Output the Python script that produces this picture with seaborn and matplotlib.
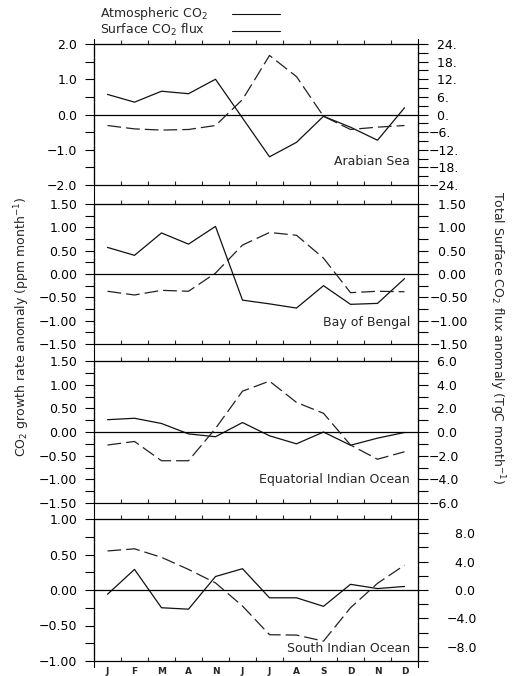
import numpy as np
import pandas as pd
import matplotlib
matplotlib.use("Agg")
import matplotlib.pyplot as plt
import matplotlib.ticker as mticker
from matplotlib.lines import Line2D
import seaborn as sns

# ---------------- data ----------------
months = ["J", "F", "M", "A", "N", "J", "J", "A", "S", "D", "N", "D"]

arabian_atm = [0.57, 0.35, 0.66, 0.59, 1.00, -0.10, -1.20, -0.79, -0.05, -0.36, -0.73, 0.19]
arabian_flux = [-3.75, -4.9, -5.3, -5.1, -3.75, 5.1, 20.1, 12.9, -0.6, -5.1, -4.3, -3.75]

bengal_atm = [0.57, 0.40, 0.88, 0.64, 1.02, -0.56, -0.64, -0.73, -0.25, -0.65, -0.63, -0.10]
bengal_flux = [-0.37, -0.45, -0.35, -0.37, 0.02, 0.62, 0.89, 0.83, 0.34, -0.40, -0.37, -0.38]

equatorial_atm = [0.26, 0.29, 0.18, -0.04, -0.10, 0.20, -0.08, -0.25, 0.00, -0.28, -0.13, -0.01]
equatorial_flux = [-1.1, -0.8, -2.43, -2.43, 0.3, 3.45, 4.3, 2.5, 1.58, -1.1, -2.3, -1.67]

south_atm = [-0.06, 0.29, -0.25, -0.27, 0.19, 0.30, -0.11, -0.11, -0.23, 0.08, 0.02, 0.05]
south_flux = [5.5, 5.8, 4.6, 2.9, 1.0, -2.26, -6.3, -6.35, -7.2, -2.5, 0.94, 3.5]

region_names = ["Arabian Sea", "Bay of Bengal", "Equatorial Indian Ocean", "South Indian Ocean"]
legend_labels = ["Atmospheric CO$_2$", "Surface CO$_2$ flux"]
left_label = "CO$_2$ growth rate anomaly (ppm month$^{-1}$)"
right_label = "Total Surface CO$_2$ flux anomaly (TgC month$^{-1}$)"

# ---------------- style ----------------
sns.set_style("ticks")
plt.rcParams['font.family'] = ['DejaVu Sans']
plt.rcParams['axes.linewidth'] = 0.8

FS = 9
W, H = 513, 676
fig = plt.figure(figsize=(W / 100, H / 100), dpi=100)

LEFT, RIGHT = 94, 418
specs = [
    dict(atm=arabian_atm, flux=arabian_flux, rect=(44, 185), ylim=2.0, ymaj=1.0, ymin=0.5,
         lfmt="{:.1f}", rlim=24, rmaj=6, rmin=3, rstart=-24, rfmt="{:.0f}.", rpad=0.8, label_y=-1.33),
    dict(atm=bengal_atm, flux=bengal_flux, rect=(204, 344), ylim=1.5, ymaj=0.5, ymin=0.25,
         lfmt="{:.2f}", rlim=1.5, rmaj=0.5, rmin=0.25, rstart=-1.5, rfmt="{:.2f}", rpad=1.2, label_y=-1.04),
    dict(atm=equatorial_atm, flux=equatorial_flux, rect=(361, 503), ylim=1.5, ymaj=0.5, ymin=0.25,
         lfmt="{:.2f}", rlim=6, rmaj=2, rmin=1, rstart=-6, rfmt="{:.1f}", rpad=0.8, label_y=-1.0),
    dict(atm=south_atm, flux=south_flux, rect=(519, 661), ylim=1.0, ymaj=0.5, ymin=0.25,
         lfmt="{:.2f}", rlim=10, rmaj=4, rmin=2, rstart=-8, rfmt="{:.1f}", rpad=13.5, label_y=-0.82),
]

centers = np.arange(len(months)) + 0.5
bounds = np.arange(1, len(months))
line_color = "#111111"
dash_color = "#222222"


def make_fmt(fmt, hang=False):
    def f(v, pos):
        if abs(v) < 1e-9:
            v = 0.0
        s = fmt.format(v).replace("-", "\u2212")
        if hang and not s.startswith("\u2212"):
            s = "\u2007" + s
        return s
    return mticker.FuncFormatter(f)


for i, (spec, name) in enumerate(zip(specs, region_names)):
    top, bottom = spec["rect"]
    ax = fig.add_axes([LEFT / W, 1 - bottom / H, (RIGHT - LEFT) / W, (bottom - top) / H])
    ax2 = ax.twinx()
    df = pd.DataFrame({"month": centers, "atm": spec["atm"], "flux": spec["flux"]})

    sns.lineplot(data=df, x="month", y="atm", ax=ax, color=line_color, lw=0.9)
    sns.lineplot(data=df, x="month", y="flux", ax=ax2, color=dash_color, lw=0.9,
                 linestyle=(0, (11, 4)))
    ax.axhline(0, color="black", lw=0.9)

    ax.set(xlabel="", ylabel="")
    ax2.set(xlabel="", ylabel="")
    ax.set_xlim(0, 12)
    ax.set_ylim(-spec["ylim"], spec["ylim"])
    ax2.set_ylim(-spec["rlim"], spec["rlim"])

    # left axis
    ax.yaxis.set_major_locator(mticker.MultipleLocator(spec["ymaj"]))
    ax.yaxis.set_minor_locator(mticker.MultipleLocator(spec["ymin"]))
    ax.yaxis.set_major_formatter(make_fmt(spec["lfmt"]))
    ax.tick_params(axis="y", which="both", direction="out", length=6.5, width=0.8,
                   labelsize=FS, pad=5.5, colors="black")

    # right axis
    ax2.yaxis.set_major_locator(mticker.MultipleLocator(spec["rmaj"], offset=spec["rstart"] % spec["rmaj"]))
    ax2.yaxis.set_minor_locator(mticker.MultipleLocator(spec["rmin"]))
    ax2.yaxis.set_major_formatter(make_fmt(spec["rfmt"], hang=True))
    ax2.tick_params(axis="y", which="both", direction="out", length=7.2, width=0.8,
                    labelsize=FS, pad=spec["rpad"], colors="black")

    # x axis: bottom ticks inward, top ticks outward
    ax.set_xticks(bounds)
    ax.set_xticklabels([])
    ax.tick_params(axis="x", which="major", direction="in", length=3, width=0.8, top=False)
    ax.set_xticks(centers, minor=True)
    if i == len(specs) - 1:
        ax.set_xticklabels(months, minor=True, fontsize=6.5, fontweight="bold")
    else:
        ax.set_xticklabels([""] * len(months), minor=True)
    ax.tick_params(axis="x", which="minor", length=0, pad=4)
    sec = ax.secondary_xaxis("top")
    sec.set_xticks(bounds)
    sec.set_xticklabels([])
    sec.tick_params(axis="x", direction="out", length=3, width=0.8)

    for a in (ax, ax2):
        for s in a.spines.values():
            s.set_linewidth(0.8)
            s.set_color("black")

    ax.text(11.7, spec["label_y"], name, ha="right", va="center", fontsize=FS)

# continuous vertical frame lines
for xp in (LEFT, RIGHT):
    fig.add_artist(Line2D([xp / W, xp / W], [1 - 39 / H, 1 - 667 / H],
                          color="black", lw=0.8, transform=fig.transFigure))

# key (text on the left, line sample on the right)
for lab, yp in zip(legend_labels, (13, 30)):
    fig.text(100 / W, 1 - yp / H, lab, ha="left", va="center", fontsize=FS)
    fig.add_artist(Line2D([232 / W, 280 / W], [1 - (yp + 1) / H, 1 - (yp + 1) / H],
                          color=line_color, lw=0.8, transform=fig.transFigure))

fig.text(22 / W, 1 - 327 / H, left_label, rotation=90, ha="center", va="center", fontsize=FS)
fig.text(497 / W, 1 - 338 / H, right_label, rotation=270, ha="center", va="center", fontsize=FS)

fig.savefig("out.png", dpi=100)
